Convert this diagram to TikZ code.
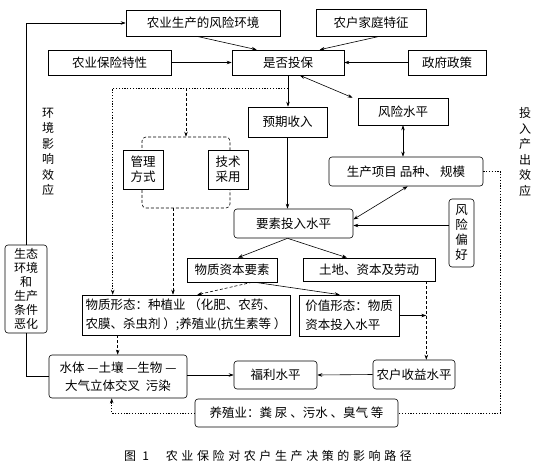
\documentclass[tikz,border=0pt]{standalone}
\usepackage{fontspec}
\newfontfamily\cjk{Noto Sans CJK SC}
\newfontfamily\cjkcap[LetterSpace=30]{Noto Sans CJK SC}
\usetikzlibrary{arrows.meta,calc}
\begin{document}
\begin{tikzpicture}[x=1pt,y=-1pt,line width=0.6pt,
 every node/.style={font=\cjk\fontsize{12.5}{15}\selectfont, inner sep=0pt},
 box/.style={draw, fill=white, align=center},
 rbox/.style={box, rounded corners=3pt},
 arr/.style={-{Stealth[length=5pt,width=3.5pt]}},
 darr/.style={{Stealth[length=5pt,width=3.5pt]}-{Stealth[length=5pt,width=3.5pt]}},
 dot/.style={dash pattern=on 1.2pt off 1.6pt},
 dsh/.style={dash pattern=on 3pt off 2pt},
]
\useasboundingbox (0,0) rectangle (539,469);
% nodes
\node[box, minimum width=154pt, minimum height=26pt] (n1) at (203,23) {农业生产的风险环境};
\node[box, minimum width=110pt, minimum height=27pt] (n2) at (371,22.5) {农户家庭特征};
\node[box, minimum width=123pt, minimum height=25pt] (n3) at (109.5,62.5) {农业保险特性};
\node[box, minimum width=112pt, minimum height=25pt] (n4) at (288,62.5) {是否投保};
\node[box, minimum width=78pt, minimum height=25pt] (n5) at (447,62.5) {政府政策};
\node[box, minimum width=90pt, minimum height=27pt] (n6) at (403,111.5) {风险水平};
\node[box, minimum width=79pt, minimum height=30pt] (n7) at (287.5,122) {预期收入};
\node[draw, dsh, rounded corners=4pt, minimum width=88pt, minimum height=71pt] (fr) at (186,172.5) {};
\node[box, minimum width=40pt, minimum height=39pt] (n8) at (143,169.5) {管理\\方式};
\node[box, minimum width=40pt, minimum height=39pt] (n9) at (228,169.5) {技术\\采用};
\node[rbox, minimum width=119pt, minimum height=29pt] (n10) at (293.5,223.5) {要素投入水平};
\node[rbox, minimum width=154pt, minimum height=29pt] (n11) at (406,171.5) {生产项目 品种、 规模};
\node[rbox, minimum width=25pt, minimum height=68pt] (n12) at (461.5,233) {风\\险\\偏\\好};
\node[box, minimum width=90pt, minimum height=24pt] (n13) at (232,270) {物质资本要素};
\node[box, minimum width=132pt, minimum height=23pt] (n14) at (369,269.5) {土地、资本及劳动};
\node[box, align=left, minimum width=208pt, minimum height=40pt, font=\cjk\fontsize{12.5}{19}\selectfont] (n15) at (186,315) {物质形态：种植业 （化肥、农药、\\农膜、杀虫剂 ）;养殖业(抗生素等 ）};
\node[box, align=left, minimum width=100pt, minimum height=41pt, font=\cjk\fontsize{12.5}{19}\selectfont] (n16) at (349,315.5) {价值形态：物质\\资本投入水平};
\node[rbox, minimum width=82pt, minimum height=29pt] (n17) at (414,374.5) {农户收益水平};
\node[rbox, minimum width=83pt, minimum height=28pt] (n18) at (275.5,375) {福利水平};
\node[rbox, minimum width=138pt, minimum height=43pt, font=\cjk\fontsize{12.5}{18}\selectfont] (n19) at (118,376.5) {水体 —土壤 —生物 —\\大气立体交叉\ \ 污染};
\node[rbox, minimum width=203pt, minimum height=28pt] (n20) at (296.5,413) {养殖业：粪 尿 、污水 、臭气 等};
\node[rbox, minimum width=42pt, minimum height=88pt, font=\cjk\fontsize{12}{14}\selectfont] (n21) at (26,289) {生态\\环境\\和\\生产\\条件\\恶化};
\node[align=center, font=\cjk\fontsize{12}{15.5}\selectfont] (l1) at (48,152) {环\\境\\影\\响\\效\\应};
\node[align=center, font=\cjk\fontsize{12}{15.5}\selectfont] (l2) at (525,152) {投\\入\\产\\出\\效\\应};
\node[font=\cjkcap\fontsize{12}{15}\selectfont] (cap) at (268,456) {图 1\hspace{1.4em}农业保险对农户生产决策的影响路径};
% connectors
\draw[arr] (n21.north) |- (n1.west);
\draw (n21.south) |- (n19.west);
\draw[arr] ($(n1.south west)+(71,0)$) -- ($(n4.north west)+(25,0)$);
\draw[arr] ($(n2.south west)+(64,0)$) -- ($(n4.north west)+(88,0)$);
\draw[arr] (n3.east) -- (n4.west);
\draw[arr] (n5.west) -- (n4.east);
\draw[darr] ($(n4.south west)+(68,0)$) -- ($(n6.north west)+(-5,0)$);
\draw[arr] (n4.south) -- (n4.south |- n7.north);
\coordinate (d0) at ($(n4.south)+(0,13)$);
\coordinate (d1) at ($(n15.north west)+(31,0)$);
\draw[dot,arr] (d0) -| (d1);
\draw[dsh,arr] (d0 -| fr.north) -- (fr.north);
\coordinate (f1) at ($(fr.south)+(-13,0)$);
\draw[dsh,arr] (f1) -- (f1 |- n15.north);
\draw[arr] (n7.south) -- (n7.south |- n10.north);
\draw[darr] (n6.south) -- (n6.south |- n11.north);
\draw[darr] ($(n11.south west)+(79,0)$) -- ($(n10.east)+(0,-4)$);
\coordinate (p12) at ($(n10.east)+(0,2)$);
\draw[arr] (p12 -| n12.west) -- (p12);
\draw[arr] ($(n10.south)+(-6,0)$) -- ($(n13.north)+(6,0)$);
\draw[arr] ($(n10.south)+(-6,0)$) -- ($(n14.north)+(-22,0)$);
\draw[dsh,arr] ($(n13.south)+(20,0)$) -- ($(n15.north east)+(-93,0)$);
\draw[arr] ($(n13.south)+(23,0)$) -- ($(n16.north west)+(41,0)$);
\coordinate (q1) at ($(n14.south east)+(-9,0)$);
\draw[dsh,arr] (q1) -- (q1 |- n17.north);
\draw[arr] (n16.east) -- (n16.east -| q1);
\draw[arr] (n17.west) -- (n18.east);
\draw[arr] (n18.west -| n19.east) -- (n18.west);
\coordinate (w1) at ($(n15.south west)+(36,0)$);
\draw[dsh,arr] (w1) -- (w1 |- n19.north);
\coordinate (w2) at ($(n19.south west)+(63,0)$);
\draw[dot,arr] (n20.west) -| (w2);
\draw[dot] (n11.east) -- ++(17,0) |- (n20.east);
\end{tikzpicture}
\end{document}
